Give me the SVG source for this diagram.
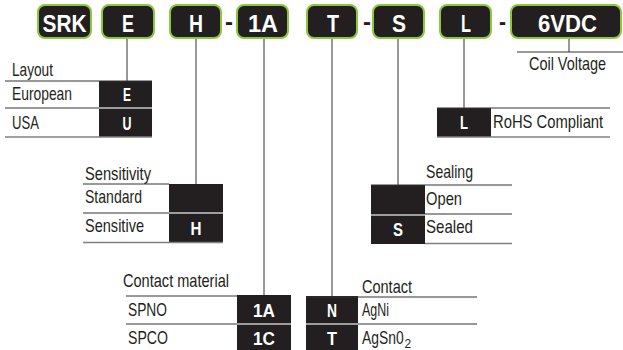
<svg xmlns="http://www.w3.org/2000/svg" width="623" height="350" viewBox="0 0 623 350">
<style>
.code{fill:#231f20;stroke:#8dc63f;stroke-width:2}
.ct{font-family:"Liberation Sans",Arial,sans-serif;font-weight:bold;font-size:24px;fill:#fff;text-anchor:middle}
.dash{font-family:"Liberation Sans",Arial,sans-serif;font-weight:bold;font-size:24px;fill:#231f20;text-anchor:middle}
.lbl{font-family:"Liberation Sans",Arial,sans-serif;font-size:18.5px;fill:#231f20}
.sub{font-family:"Liberation Sans",Arial,sans-serif;font-size:12px;fill:#231f20}
.bt{font-family:"Liberation Sans",Arial,sans-serif;font-weight:bold;font-size:19px;fill:#fff;text-anchor:middle}
.blk{fill:#231f20}
.ln{stroke:#333;stroke-width:1;fill:none}
.bl{stroke:#808080;stroke-width:1.5;fill:none}
.dv{stroke:#c8c8c8;stroke-width:1.5;fill:none}
</style>
<rect width="623" height="350" fill="#fff"/>
<g id="connectors">
<path class="ln" d="M127,38V81M196,38V184M264,38V295M332,38V296M398,38V185M464,38V108M569,38V52M517,52H623"/>
</g>
<g id="code-SRK"><rect class="code" x="38" y="5" width="53" height="33" rx="7"/><text class="ct" x="64.5" y="32" textLength="44" lengthAdjust="spacingAndGlyphs">SRK</text></g>
<g id="code-E"><rect class="code" x="102" y="5" width="52" height="33" rx="7"/><text class="ct" x="128" y="32" textLength="12" lengthAdjust="spacingAndGlyphs">E</text></g>
<g id="code-H"><rect class="code" x="170" y="5" width="51" height="33" rx="7"/><text class="ct" x="196" y="32" textLength="14" lengthAdjust="spacingAndGlyphs">H</text></g>
<text class="dash" x="229" y="30" textLength="8" lengthAdjust="spacingAndGlyphs">-</text>
<g id="code-1A"><rect class="code" x="237" y="5" width="51" height="33" rx="7"/><text class="ct" x="263" y="32" textLength="30" lengthAdjust="spacingAndGlyphs">1A</text></g>
<g id="code-T"><rect class="code" x="307" y="5" width="50" height="33" rx="7"/><text class="ct" x="333" y="32" textLength="12" lengthAdjust="spacingAndGlyphs">T</text></g>
<text class="dash" x="367" y="30" textLength="8" lengthAdjust="spacingAndGlyphs">-</text>
<g id="code-S"><rect class="code" x="373" y="5" width="51" height="33" rx="7"/><text class="ct" x="399" y="32" textLength="14" lengthAdjust="spacingAndGlyphs">S</text></g>
<g id="code-L"><rect class="code" x="440" y="5" width="51" height="33" rx="7"/><text class="ct" x="466" y="32" textLength="10" lengthAdjust="spacingAndGlyphs">L</text></g>
<text class="dash" x="502.5" y="30" textLength="7" lengthAdjust="spacingAndGlyphs">-</text>
<g id="code-6VDC"><rect class="code" x="511" y="5" width="110" height="33" rx="7"/><text class="ct" x="567.5" y="32" textLength="59" lengthAdjust="spacingAndGlyphs">6VDC</text></g>

<g id="layout">
<text class="lbl" x="12" y="76" textLength="41" lengthAdjust="spacingAndGlyphs">Layout</text>
<rect class="blk" x="99" y="81" width="53" height="56"/>
<path class="ln" d="M5,81H152M5,108H99"/>
<path class="dv" d="M99,108H152"/>
<path class="bl" d="M5,137H152"/>
<text class="lbl" x="12" y="100" textLength="60" lengthAdjust="spacingAndGlyphs">European</text>
<text class="lbl" x="12" y="129" textLength="27" lengthAdjust="spacingAndGlyphs">USA</text>
<text class="bt" x="127" y="101" textLength="8" lengthAdjust="spacingAndGlyphs">E</text>
<text class="bt" x="127" y="130" textLength="9" lengthAdjust="spacingAndGlyphs">U</text>
</g>

<g id="sensitivity">
<text class="lbl" x="85" y="180" textLength="66" lengthAdjust="spacingAndGlyphs">Sensitivity</text>
<rect class="blk" x="169" y="184" width="54" height="59"/>
<path class="ln" d="M83,184H169M83,213H169"/>
<path class="dv" d="M169,213H223"/>
<path class="bl" d="M83,242.5H223"/>
<text class="lbl" x="85" y="203" textLength="57" lengthAdjust="spacingAndGlyphs">Standard</text>
<text class="lbl" x="85" y="232" textLength="59" lengthAdjust="spacingAndGlyphs">Sensitive</text>
<text class="bt" x="196" y="235" textLength="11" lengthAdjust="spacingAndGlyphs">H</text>
</g>

<g id="contact-material">
<text class="lbl" x="123" y="287" textLength="106" lengthAdjust="spacingAndGlyphs">Contact material</text>
<rect class="blk" x="237" y="295" width="54" height="60"/>
<path class="ln" d="M126,296H237M126,324H237"/>
<path class="dv" d="M237,324H291"/>
<text class="lbl" x="128" y="316" textLength="39" lengthAdjust="spacingAndGlyphs">SPNO</text>
<text class="lbl" x="128" y="344" textLength="40" lengthAdjust="spacingAndGlyphs">SPCO</text>
<text class="bt" x="264" y="317" textLength="22" lengthAdjust="spacingAndGlyphs">1A</text>
<text class="bt" x="264" y="345" textLength="22" lengthAdjust="spacingAndGlyphs">1C</text>
</g>

<g id="contact">
<text class="lbl" x="362" y="293" textLength="50" lengthAdjust="spacingAndGlyphs">Contact</text>
<rect class="blk" x="306" y="296" width="52" height="59"/>
<path class="ln" d="M306,297H477M358,324H477"/>
<path class="dv" d="M306,324H358"/>
<text class="lbl" x="362" y="316" textLength="27" lengthAdjust="spacingAndGlyphs">AgNi</text>
<text class="lbl" transform="translate(362,344) scale(0.75,1)">AgSn0</text>
<text class="sub" x="404.5" y="348">2</text>
<text class="bt" x="332" y="317" textLength="10" lengthAdjust="spacingAndGlyphs">N</text>
<text class="bt" x="332" y="345" textLength="10" lengthAdjust="spacingAndGlyphs">T</text>
</g>

<g id="sealing">
<text class="lbl" x="426" y="178" textLength="47" lengthAdjust="spacingAndGlyphs">Sealing</text>
<rect class="blk" x="371" y="185" width="54" height="59"/>
<path class="ln" d="M371,185H512M425,214H512"/>
<path class="dv" d="M371,215H425"/>
<path class="bl" d="M425,243.5H512"/>
<text class="lbl" x="426" y="205" textLength="36" lengthAdjust="spacingAndGlyphs">Open</text>
<text class="lbl" x="426" y="233" textLength="47" lengthAdjust="spacingAndGlyphs">Sealed</text>
<text class="bt" x="398" y="236" textLength="10" lengthAdjust="spacingAndGlyphs">S</text>
</g>

<g id="rohs">
<rect class="blk" x="437" y="108" width="54" height="29"/>
<path class="ln" d="M437,108H610"/>
<path class="bl" d="M437,137H610"/>
<text class="lbl" transform="translate(493,128) scale(0.8,1)">RoHS Compliant</text>
<text class="bt" x="464" y="129" textLength="8" lengthAdjust="spacingAndGlyphs">L</text>
</g>

<g id="coil-voltage">
<text class="lbl" transform="translate(529,70) scale(0.78,1)">Coil Voltage</text>
</g>
</svg>
